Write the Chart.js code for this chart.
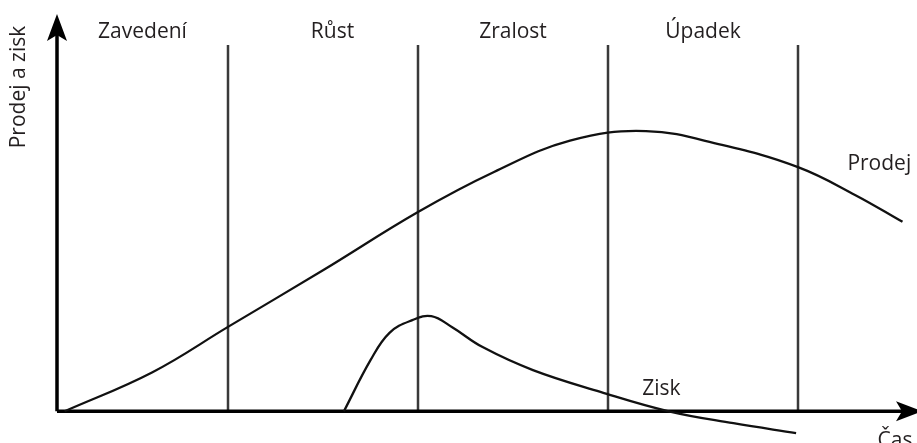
<!DOCTYPE html>
<html>
<head>
<meta charset="utf-8">
<script src="https://cdn.jsdelivr.net/npm/chart.js@4/dist/chart.umd.min.js"></script>
<style>
  html, body { margin: 0; padding: 0; background: #fff; }
  #wrap { width: 917px; height: 443px; position: relative; }
</style>
</head>
<body>
<div id="wrap"><canvas id="plcChart"></canvas></div>
<script>
// time axis (arbitrary units), phase boundaries and labels
const phaseBounds = [9, 19, 29, 39];
const phaseNames = ['Zavedení', 'Růst', 'Zralost', 'Úpadek'];
const phaseLabelX = [4.5, 14.5, 24, 34];
const phaseTop = 92.4;

// Prodej (sales)
const salesT = [0.4, 5, 9, 14, 19, 23, 27, 31, 35, 39, 42, 44.5];
const salesV = [0, 9.8, 21.3, 35.6, 50.3, 60.4, 68.3, 70.7, 67.2, 61.6, 54.6, 47.8];

// Zisk (profit)
const profitT = [15.1, 16.5, 17.5, 18.7, 19.7, 20.8, 22.4, 25.05, 28.6, 32.2, 35.6, 38.9];
const profitV = [0, 12.9, 19.8, 23.0, 24.0, 21.2, 16.2, 10.4, 4.9, 0, -3.0, -5.5];

// curve labels: [x, y] in data units
const salesLabelAt = [41.6, 60.9];
const profitLabelAt = [30.8, 4.1];

const FONT = '21px "Open Sans", "Noto Sans", sans-serif';
const INK = '#231f20';

function toPoints(xs, ys) {
    return xs.map(function (x, i) { return { x: x, y: ys[i] }; });
}

const schemaPlugin = {
    id: 'schema',
    beforeDatasetsDraw: function (chart) {
        const c = chart.ctx;
        const x = chart.scales.x, y = chart.scales.y;
        const y0 = y.getPixelForValue(0);
        const x0 = x.getPixelForValue(0);
        c.save();
        // phase dividers
        c.strokeStyle = '#3a3a3a';
        c.lineWidth = 2.5;
        phaseBounds.forEach(function (b) {
            const px = x.getPixelForValue(b);
            c.beginPath();
            c.moveTo(px, y.getPixelForValue(phaseTop));
            c.lineTo(px, y0);
            c.stroke();
        });
        // axes
        c.strokeStyle = '#000';
        c.fillStyle = '#000';
        c.lineWidth = 3.5;
        c.beginPath();
        c.moveTo(x0, y0);
        c.lineTo(x0, 30);
        c.moveTo(x0, y0);
        c.lineTo(905, y0);
        c.stroke();
        // arrow heads
        c.beginPath();
        c.moveTo(x0, 14);
        c.lineTo(x0 + 10, 41);
        c.lineTo(x0, 35);
        c.lineTo(x0 - 10, 41);
        c.closePath();
        c.fill();
        c.beginPath();
        c.moveTo(922, y0);
        c.lineTo(896, y0 - 10);
        c.lineTo(902, y0);
        c.lineTo(896, y0 + 10);
        c.closePath();
        c.fill();
        c.restore();
    },
    afterDraw: function (chart) {
        const c = chart.ctx;
        const x = chart.scales.x, y = chart.scales.y;
        c.save();
        c.font = FONT;
        c.fillStyle = INK;
        c.textBaseline = 'alphabetic';
        c.textAlign = 'center';
        phaseNames.forEach(function (n, i) {
            c.fillText(n, x.getPixelForValue(phaseLabelX[i]), 38);
        });
        c.textAlign = 'left';
        c.fillText('Prodej', x.getPixelForValue(salesLabelAt[0]), y.getPixelForValue(salesLabelAt[1]));
        c.fillText('Zisk', x.getPixelForValue(profitLabelAt[0]), y.getPixelForValue(profitLabelAt[1]));
        c.textAlign = 'center';
        c.fillText('Čas', 895, 447);
        // y axis title
        c.translate(25, 87);
        c.rotate(-Math.PI / 2);
        c.fillText('Prodej a zisk', 0, 0);
        c.restore();
    }
};

new Chart(document.getElementById('plcChart'), {
    type: 'scatter',
    data: {
        datasets: [{
            label: 'Prodej',
            data: toPoints(salesT, salesV),
            showLine: true,
            borderColor: '#111',
            borderWidth: 2.3,
            pointRadius: 0,
            tension: 0.4
        }, {
            label: 'Zisk',
            data: toPoints(profitT, profitV),
            showLine: true,
            borderColor: '#111',
            borderWidth: 2.3,
            pointRadius: 0,
            tension: 0.4
        }]
    },
    options: {
        responsive: true,
        maintainAspectRatio: false,
        animation: false,
        layout: { padding: { left: 57, right: 5, top: 15, bottom: 0 } },
        plugins: { legend: { display: false }, tooltip: { enabled: false } },
        scales: {
            x: { type: 'linear', min: 0, max: 45, display: false },
            y: { min: -8, max: 100, display: false }
        }
    },
    plugins: [schemaPlugin]
});
</script>
</body>
</html>
